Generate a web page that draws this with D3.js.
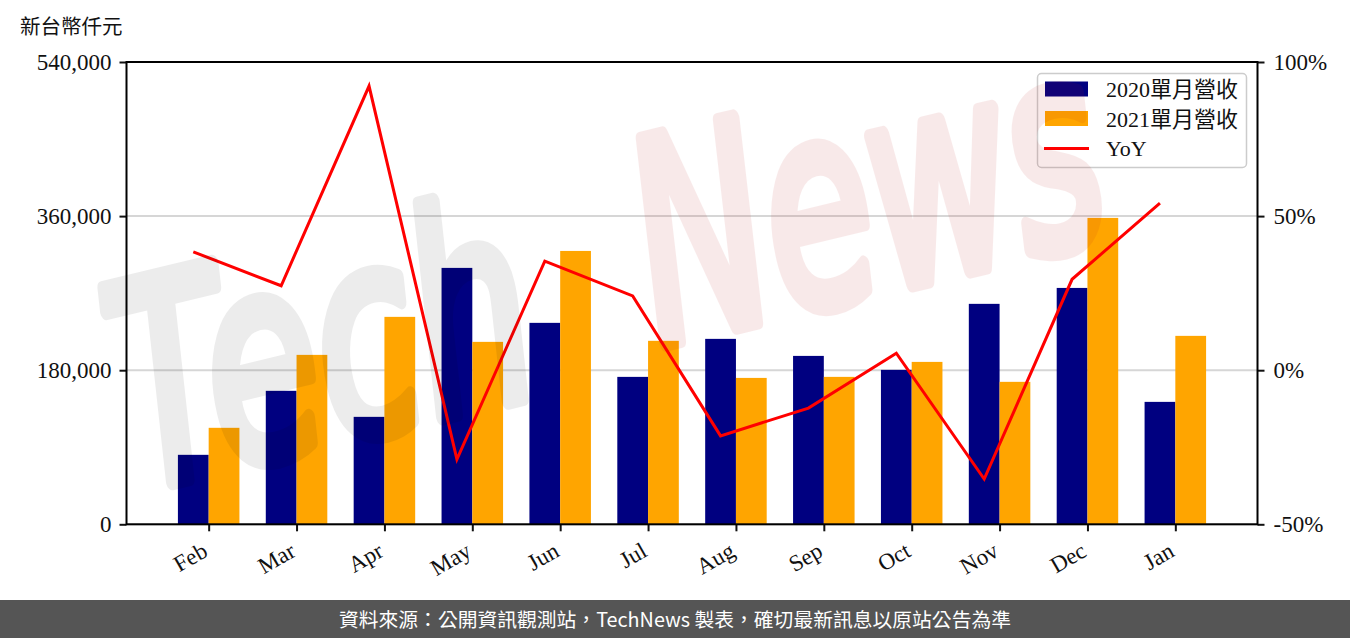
<!DOCTYPE html>
<html><head><meta charset="utf-8">
<script src="https://cdn.jsdelivr.net/npm/d3@7"></script>
<style>body{margin:0;background:#fff} svg{display:block}</style>
</head><body><svg id="c" width="1350" height="638"></svg>
<script>
const categories = ["Feb","Mar","Apr","May","Jun","Jul","Aug","Sep","Oct","Nov","Dec","Jan"];
const revenue2020 = [81150,155900,125500,299500,235300,172200,216600,196700,180400,257500,276100,143000];
const revenue2021 = [112700,197900,242300,213100,319300,214300,171000,172200,189700,166400,357900,220100];
const yoyPct = [38.4,27.4,92.2,-28.9,35.4,24.1,-21.3,-12.3,5.5,-35.3,29.5,54.2];
const leftTicks = [0,180000,360000,540000];
const rightTicks = [-50,0,50,100];
const seriesNames = ["2020單月營收","2021單月營收","YoY"];
const unitLabel = "新台幣仟元";
const footerText = "資料來源：公開資訊觀測站，TechNews 製表，確切最新訊息以原站公告為準";

const colors = {y2020:"#000080", y2021:"#FFA500", yoy:"#FF0000"};
const serif = "'Liberation Serif','Noto Sans CJK TC',serif";
const sans = "'Noto Sans CJK TC','Noto Sans',sans-serif";

const L = 126.5, R = 1257.5, T = 62, B = 524.3;
const barW = 0.35;
const svg = d3.select("#c");

const x = d3.scaleLinear().domain([-0.935, 11.935]).range([L, R]);
const yL = d3.scaleLinear().domain([0, 540000]).range([B, T]);
const yR = d3.scaleLinear().domain([-50, 100]).range([B, T]);

// grid
svg.append("g").selectAll("line").data(rightTicks).join("line")
  .attr("x1", L).attr("x2", R)
  .attr("y1", d => yR(d)).attr("y2", d => yR(d))
  .attr("stroke", "#d6d6d6").attr("stroke-width", 2);

// bars
const idx = d3.range(categories.length);
svg.append("g").selectAll("rect").data(idx).join("rect")
  .attr("x", i => x(i - barW)).attr("width", x(barW) - x(0))
  .attr("y", i => yL(revenue2020[i])).attr("height", i => yL(0) - yL(revenue2020[i]))
  .attr("fill", colors.y2020);
svg.append("g").selectAll("rect").data(idx).join("rect")
  .attr("x", i => x(i)).attr("width", x(barW) - x(0))
  .attr("y", i => yL(revenue2021[i])).attr("height", i => yL(0) - yL(revenue2021[i]))
  .attr("fill", colors.y2021);

// axes
function styleAxis(g) {
  g.select(".domain").remove();
  g.selectAll(".tick line").attr("stroke", "#111").attr("stroke-width", 2);
  g.selectAll(".tick text").attr("font-family", serif).attr("font-size", 23).attr("fill", "#111");
}
svg.append("g").attr("transform", `translate(${L},0)`)
  .call(d3.axisLeft(yL).tickValues(leftTicks).tickFormat(d3.format(",")).tickSize(7).tickPadding(8))
  .call(styleAxis);
svg.append("g").attr("transform", `translate(${R},0)`)
  .call(d3.axisRight(yR).tickValues(rightTicks).tickFormat(d => d + "%").tickSize(7).tickPadding(9))
  .call(styleAxis);
const xa = svg.append("g").attr("transform", `translate(0,${B})`)
  .call(d3.axisBottom(x).tickValues(idx).tickFormat(i => categories[i]).tickSize(7))
  .call(styleAxis);
xa.selectAll(".tick text").attr("y", 0).attr("dy", 0)
  .attr("text-anchor", "end").attr("transform", "translate(0,31) rotate(-30)");

// frame
svg.append("rect").attr("x", L).attr("y", T).attr("width", R - L).attr("height", B - T)
  .attr("fill", "none").attr("stroke", "#000").attr("stroke-width", 2);

// yoy line (at centre of the 2020 bar)
const line = d3.line().x((d, i) => x(i - barW / 2)).y(d => yR(d));
svg.append("path").datum(yoyPct).attr("d", line)
  .attr("fill", "none").attr("stroke", colors.yoy).attr("stroke-width", 3).attr("stroke-linejoin", "miter");

// legend
const lg = svg.append("g");
lg.append("rect").attr("x", 1037.5).attr("y", 73.5).attr("width", 209).attr("height", 94).attr("rx", 4)
  .attr("fill", "#fff").attr("fill-opacity", 0.8).attr("stroke", "#ccc").attr("stroke-width", 1.5);
const legItems = [
  {name: seriesNames[0], color: colors.y2020, type: "bar"},
  {name: seriesNames[1], color: colors.y2021, type: "bar"},
  {name: seriesNames[2], color: colors.yoy, type: "line"}
];
legItems.forEach((d, k) => {
  const cy = 89 + k * 29.5;
  if (d.type === "bar") lg.append("rect").attr("x", 1045).attr("y", cy - 7.5).attr("width", 43).attr("height", 15).attr("fill", d.color);
  else lg.append("line").attr("x1", 1044).attr("x2", 1089).attr("y1", cy + 0.5).attr("y2", cy + 0.5).attr("stroke", d.color).attr("stroke-width", 3);
  lg.append("text").attr("x", 1106).attr("y", cy + 8).attr("font-family", serif).attr("font-size", 22)
    .attr("fill", "#111").text(d.name);
});

// watermark (translucent, on top)
const wm = svg.append("g").attr("pointer-events", "none");
wm.append("text").attr("transform", "translate(140,490) rotate(-13.5)")
  .attr("font-family", "'DejaVu Sans'").attr("font-style", "italic")
  .attr("font-size", 280).attr("textLength", 420).attr("lengthAdjust", "spacingAndGlyphs")
  .attr("fill", "#000").attr("stroke", "#000")
  .attr("stroke-width", 16).attr("stroke-linejoin", "round").attr("opacity", 0.07).text("Tech");
wm.append("text").attr("transform", "translate(660,345) rotate(-13.5)")
  .attr("font-family", "'DejaVu Sans'").attr("font-style", "italic")
  .attr("font-size", 280).attr("textLength", 470).attr("lengthAdjust", "spacingAndGlyphs")
  .attr("fill", "rgb(190,30,30)").attr("stroke", "rgb(190,30,30)")
  .attr("stroke-width", 16).attr("stroke-linejoin", "round").attr("opacity", 0.09).text("News");

// unit label
svg.append("text").attr("x", 20).attr("y", 34).attr("font-family", serif).attr("font-size", 20.5)
  .attr("fill", "#111").text(unitLabel);

// footer
svg.append("rect").attr("x", 0).attr("y", 600).attr("width", 1350).attr("height", 38).attr("fill", "#555");
svg.append("text").attr("x", 675).attr("y", 627).attr("text-anchor", "middle").attr("font-family", sans)
  .attr("font-size", 19.8).attr("fill", "#fff").text(footerText);
</script></body></html>
